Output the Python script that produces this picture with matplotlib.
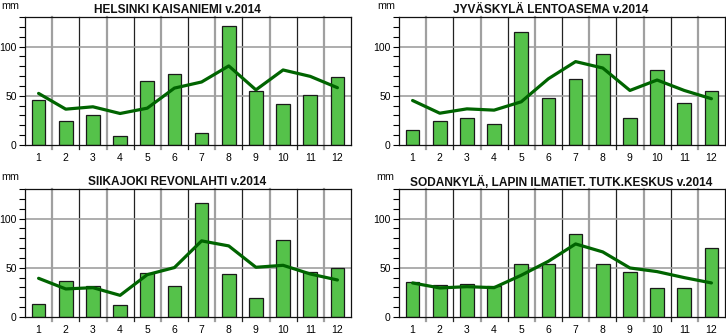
import numpy as np
import matplotlib.pyplot as plt
from matplotlib.ticker import MultipleLocator

plt.rcParams['font.family'] = ['Liberation Sans', 'DejaVu Sans']

months = list(range(1, 13))

stations = ["HELSINKI KAISANIEMI v.2014",
            "JYVÄSKYLÄ LENTOASEMA v.2014",
            "SIIKAJOKI REVONLAHTI v.2014",
            "SODANKYLÄ, LAPIN ILMATIET. TUTK.KESKUS v.2014"]

# monthly precipitation 2014 (mm)
helsinki_2014 = [46, 24, 30, 9.5, 65, 72, 12.6, 121, 54.4, 41.5, 51, 69]
jyvaskyla_2014 = [15.6, 24.8, 27.2, 21.8, 114.6, 47.6, 66.7, 92.5, 27.9, 75.9, 42.5, 55.1]
siikajoki_2014 = [12.9, 36.3, 31.5, 11.9, 45.1, 31.5, 115.9, 43.7, 19, 78.3, 46.1, 49.5]
sodankyla_2014 = [35.6, 32.5, 33.6, 31.5, 54.2, 54.2, 84.4, 54.2, 46.1, 29.5, 29.5, 69.8]

# long-term monthly means (mm)
helsinki_mean = [52.4, 36.4, 38.8, 32, 37.4, 57.8, 64, 80.3, 56, 76.2, 69.7, 58.2]
jyvaskyla_mean = [45.2, 32.3, 36.7, 35.4, 43.9, 67.3, 84.7, 78.2, 55.4, 66, 55.4, 47]
siikajoki_mean = [39.3, 28.5, 29.8, 22, 43, 50.2, 77.3, 72.2, 50.5, 52.5, 43.7, 37.6]
sodankyla_mean = [34.6, 29.5, 30.8, 29.8, 42.4, 56.6, 74.2, 66.1, 49.8, 46.1, 40, 34.6]

yearly = [helsinki_2014, jyvaskyla_2014, siikajoki_2014, sodankyla_2014]
means = [helsinki_mean, jyvaskyla_mean, siikajoki_mean, sodankyla_mean]

W, H = 726, 336
fig = plt.figure(figsize=(W / 100, H / 100), dpi=100)

# axes boxes in pixels: left, top, right, bottom
boxes = [(25, 17, 351, 145), (399, 17, 725, 145),
         (25, 189, 351, 317), (399, 189, 725, 317)]
title_pos = [(177, 10), (551, 10), (177, 182), (561, 182)]
mm_pos = [(1, 6), (377, 6), (1, 177), (376, 177)]

bar_col = '#55c24a'
line_col = '#006400'

for i in range(4):
    l, t, r, b = boxes[i]
    ax = fig.add_axes([l / W, 1 - b / H, (r - l) / W, (b - t) / H])
    ax.set_xlim(0.5, 12.5)
    ax.set_ylim(0, 130)

    # month separators, alternating grey / black, poking below the axis
    for k in range(1, 12):
        c = '#a0a0a0' if k % 2 == 1 else '#222222'
        lw = 1.6 if k % 2 == 1 else 0.9
        ax.axvline(k + 0.5, ymin=-0.035, ymax=1, color=c, lw=lw,
                   clip_on=False, zorder=1)
    for yv in (50, 100):
        ax.axhline(yv, color='#a0a0a0', lw=1.2, zorder=1)

    ax.bar(months, yearly[i], width=0.5, color=bar_col,
           edgecolor='#1a1a1a', linewidth=0.9, zorder=2)
    ax.plot(months, means[i], color=line_col, lw=2.3, zorder=3,
            solid_joinstyle='round', solid_capstyle='round')

    for s in ax.spines.values():
        s.set_color('#111111')
        s.set_linewidth(0.9)
    ax.set_xticks(months)
    ax.set_xticklabels([str(m) for m in months])
    ax.tick_params(axis='x', length=0, pad=6, labelsize=7.5)
    ax.set_yticks([0, 50, 100])
    ax.yaxis.set_minor_locator(MultipleLocator(10))
    ax.tick_params(axis='y', which='major', length=4, width=0.8,
                   labelsize=7.5, pad=2)
    ax.tick_params(axis='y', which='minor', length=4, width=0.8)

    tx, ty = title_pos[i]
    fig.text(tx / W, 1 - ty / H, stations[i], ha='center', va='center',
             fontsize=8.6, fontweight='bold', color='#111111')
    mx, my = mm_pos[i]
    fig.text(mx / W, 1 - my / H, "mm", ha='left', va='center',
             fontsize=7.8, color='#111111')

fig.savefig('out.png', dpi=100)
